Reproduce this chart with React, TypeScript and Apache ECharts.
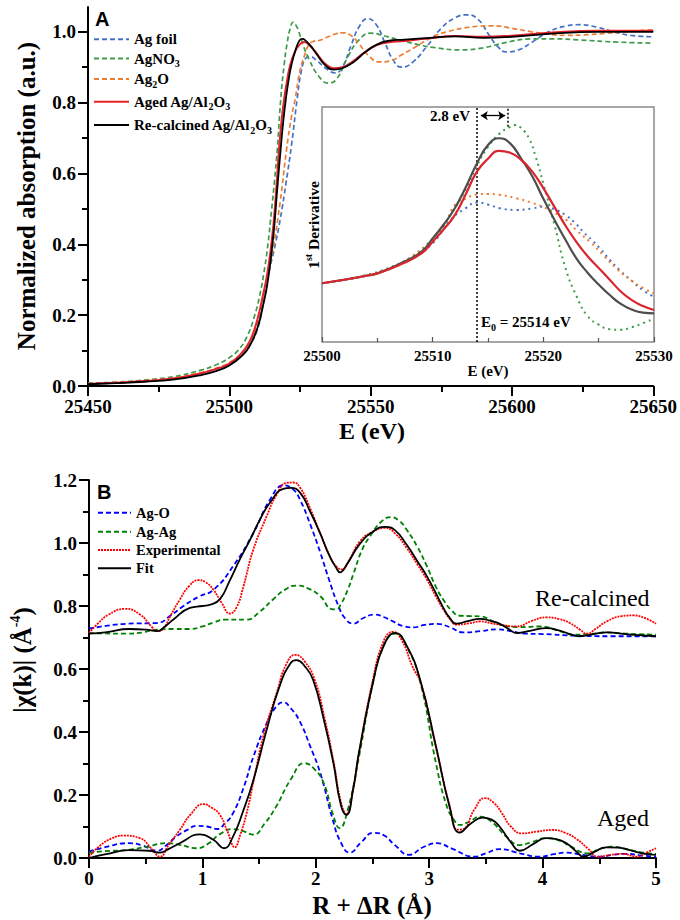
import React, { useEffect, useRef } from 'react';
import * as echarts from 'echarts';

const SERIF = '"Liberation Serif", "Times New Roman", serif';
const SANS = '"Liberation Sans", Arial, sans-serif';

// ---------- Panel A: XANES (E in eV, normalized absorption) ----------
const agFoil: number[][] = [[25450,0.006],[25460,0.009],[25470,0.014],[25480,0.021],[25490,0.036],[25496,0.05],[25500,0.062],[25504,0.085],[25507,0.115],[25509.5,0.15],[25512,0.23],[25514,0.32],[25516,0.39],[25518,0.47],[25520,0.57],[25522,0.68],[25524,0.81],[25525.5,0.89],[25527,0.925],[25528.5,0.93],[25531,0.918],[25534,0.898],[25537.5,0.884],[25540,0.9],[25543,0.96],[25546,1.015],[25549,1.037],[25552,1.02],[25555,0.97],[25558,0.92],[25561,0.9],[25565,0.915],[25570,0.96],[25575,1.01],[25580,1.04],[25584,1.048],[25588,1.035],[25592,0.99],[25595,0.958],[25598,0.943],[25602,0.948],[25607,0.97],[25613,1.0],[25619,1.016],[25624,1.02],[25630,1.013],[25636,1.0],[25642,0.99],[25650,0.986]];
const agNO3: number[][] = [[25450,0.008],[25460,0.011],[25470,0.017],[25480,0.026],[25490,0.045],[25496,0.062],[25500,0.08],[25503,0.1],[25506,0.135],[25509,0.2],[25511,0.265],[25512.3,0.323],[25513.5,0.389],[25515,0.5],[25516,0.58],[25517,0.671],[25518.2,0.81],[25519.4,0.907],[25520.5,0.97],[25521.5,1.008],[25522.6,1.027],[25523.6,1.018],[25524.6,1.0],[25526,0.965],[25528,0.926],[25531.7,0.874],[25535,0.855],[25538,0.867],[25542,0.93],[25546,0.978],[25550,0.996],[25555,0.988],[25560,0.977],[25566,0.965],[25572,0.956],[25582,0.949],[25590,0.955],[25598,0.97],[25607,0.98],[25615,0.98],[25624,0.977],[25637,0.971],[25650,0.968]];
const ag2O: number[][] = [[25450,0.007],[25460,0.01],[25470,0.015],[25480,0.022],[25490,0.038],[25496,0.052],[25500,0.066],[25504,0.09],[25507,0.12],[25510,0.18],[25512,0.25],[25514,0.33],[25515.5,0.389],[25518,0.52],[25520.3,0.671],[25522,0.76],[25523.3,0.81],[25525,0.89],[25526.5,0.93],[25528,0.962],[25529.5,0.972],[25532,0.976],[25535,0.986],[25538,0.995],[25540,0.997],[25543,0.99],[25546,0.965],[25549,0.935],[25553,0.915],[25557,0.918],[25561,0.935],[25566,0.958],[25571.5,0.984],[25577,1.0],[25585,1.013],[25593,1.017],[25600,1.01],[25607,1.0],[25613,0.993],[25619,0.99],[25625,0.991],[25632,0.995],[25640,1.0],[25650,1.006]];
const agedAg: number[][] = [[25450,0.006],[25460,0.009],[25470,0.014],[25480,0.021],[25490,0.036],[25496,0.05],[25500,0.063],[25504,0.09],[25506,0.11],[25508,0.14],[25510,0.19],[25512,0.26],[25513.5,0.32],[25515,0.41],[25516,0.49],[25517,0.6],[25517.6,0.671],[25518.5,0.75],[25519.4,0.81],[25520.5,0.865],[25521.5,0.905],[25523,0.94],[25524.5,0.96],[25526.4,0.971],[25528,0.965],[25530,0.948],[25533,0.917],[25535,0.903],[25537,0.897],[25540,0.9],[25544,0.918],[25548,0.943],[25552,0.962],[25556,0.97],[25562,0.974],[25570,0.981],[25580,0.988],[25590,0.986],[25600,0.989],[25613,0.997],[25630,1.003],[25650,1.003]];
const recalcAg: number[][] = [[25450,0.005],[25460,0.008],[25470,0.012],[25480,0.018],[25490,0.031],[25496,0.044],[25500,0.058],[25504,0.082],[25507,0.11],[25510,0.165],[25512,0.23],[25513.5,0.29],[25515.1,0.389],[25516,0.46],[25517,0.56],[25518.2,0.671],[25519,0.74],[25520,0.81],[25521,0.865],[25522,0.907],[25523.5,0.95],[25524.8,0.975],[25525.8,0.98],[25527,0.975],[25529,0.958],[25531,0.936],[25534,0.905],[25537,0.893],[25540,0.897],[25544,0.915],[25548,0.942],[25552,0.963],[25556,0.974],[25562,0.978],[25570,0.982],[25580,0.987],[25590,0.983],[25600,0.986],[25613,0.994],[25630,1.0],[25650,1.0]];

// ---------- Inset: first derivative (arbitrary units) ----------
const dAgFoil: number[][] = [[25500,25],[25502,26.5],[25504,28.2],[25506,31],[25508,35.5],[25510,42],[25511.6,51.9],[25513,57],[25514,59.4],[25515,58.5],[25516.1,56.9],[25517.6,56.2],[25519,56.8],[25519.9,57.6],[25521,56.5],[25522,54],[25523,50],[25523.6,46.9],[25524.4,43.3],[25525.1,39.9],[25526,35],[25526.9,30.6],[25528,26],[25529,22],[25530,19.3]];
const dAgNO3: number[][] = [[25500,25],[25502,26.6],[25504,28.5],[25506,31.5],[25508,36],[25510,44],[25511,50],[25512,57],[25513,65],[25514,75],[25515,83],[25516,88.5],[25517,91.5],[25517.5,92.3],[25518,91],[25518.7,86.7],[25519.3,79],[25520,67.5],[25521,50],[25522,31.5],[25523,19.5],[25524,11],[25525,7.4],[25526,5.4],[25527,5.2],[25528,6.3],[25529,8],[25530,10]];
const dAg2O: number[][] = [[25500,25],[25502,26.5],[25504,28.3],[25506,31.2],[25508,36],[25510,43.5],[25511,49],[25512,58.3],[25513,61],[25514,62.8],[25515,63],[25516,62.7],[25517.6,61.1],[25519,59.2],[25519.9,57.6],[25521,55],[25522.1,51.9],[25523,47.5],[25524.2,42.7],[25525.5,36.5],[25526.6,31.3],[25528,26],[25529,23],[25530,20.7]];
const dAged: number[][] = [[25500,25],[25502,26.5],[25504,28.2],[25505,29.2],[25507,32.8],[25509,37.7],[25510,42.7],[25511,48],[25512,54],[25513,63],[25514,72.5],[25515,78],[25516,81.3],[25517,80.5],[25518,77.5],[25519,72.5],[25520,65.5],[25521,57.5],[25522,49.5],[25523,42.5],[25524,36.5],[25525,31.5],[25526,26.5],[25527,21.5],[25528,17.8],[25529,15.3],[25530,13.6]];
const dRecalc: number[][] = [[25500,25],[25502,26.5],[25504,28.2],[25505,29.2],[25507,33.2],[25509,38.5],[25510,44.1],[25511,50],[25512,56.9],[25513,66],[25514,76],[25515,83.8],[25516,86.7],[25517,84.5],[25518,78],[25519,70.5],[25520,61],[25521,52],[25522,43.5],[25523,35.5],[25524,29.5],[25525,24.5],[25526,20],[25527,16.2],[25528,13.8],[25529,12.5],[25530,12.2]];
const E0 = 25514;
const shiftEnd = 25516.8;

// ---------- Panel B: |chi(R)| (R + dR in Angstrom) ----------
const rcAgO: number[][] = [[0,0.728],[0.15,0.737],[0.35,0.744],[0.6,0.746],[0.72,0.77],[0.83,0.799],[0.97,0.83],[1.1,0.852],[1.27,0.926],[1.45,1.032],[1.6,1.14],[1.72,1.183],[1.8,1.17],[1.86,1.138],[1.95,1.06],[2.04,0.969],[2.12,0.88],[2.2,0.8],[2.26,0.76],[2.33,0.744],[2.42,0.762],[2.52,0.773],[2.6,0.765],[2.68,0.751],[2.77,0.736],[2.86,0.732],[2.96,0.74],[3.07,0.743],[3.18,0.733],[3.3,0.716],[3.45,0.72],[3.6,0.726],[3.72,0.72],[3.86,0.712],[4.0,0.711],[4.27,0.706],[4.6,0.704],[5,0.704]];
const rcAgAg: number[][] = [[0,0.714],[0.15,0.713],[0.33,0.712],[0.47,0.716],[0.6,0.725],[0.75,0.727],[0.89,0.727],[1.0,0.735],[1.1,0.748],[1.21,0.757],[1.39,0.757],[1.5,0.78],[1.62,0.82],[1.73,0.852],[1.83,0.865],[1.93,0.856],[2.04,0.831],[2.14,0.79],[2.18,0.789],[2.22,0.805],[2.28,0.85],[2.33,0.9],[2.41,0.98],[2.48,1.022],[2.57,1.065],[2.66,1.082],[2.73,1.072],[2.8,1.043],[2.9,0.985],[2.98,0.926],[3.06,0.86],[3.125,0.82],[3.2,0.785],[3.27,0.769],[3.36,0.768],[3.45,0.767],[3.57,0.75],[3.69,0.735],[3.8,0.733],[3.98,0.735],[4.15,0.72],[4.27,0.709],[4.42,0.711],[4.565,0.716],[4.75,0.712],[5,0.709]];
const rcExp: number[][] = [[0,0.714],[0.08,0.745],[0.17,0.772],[0.317,0.791],[0.45,0.773],[0.55,0.735],[0.6,0.72],[0.655,0.728],[0.72,0.77],[0.8,0.82],[0.88,0.862],[0.964,0.882],[1.03,0.875],[1.096,0.852],[1.17,0.81],[1.243,0.776],[1.3,0.795],[1.36,0.86],[1.449,0.979],[1.567,1.085],[1.65,1.15],[1.743,1.191],[1.8,1.192],[1.861,1.176],[1.95,1.11],[2.037,1.032],[2.12,0.96],[2.18,0.926],[2.23,0.916],[2.3,0.95],[2.39,1.006],[2.5,1.035],[2.61,1.048],[2.7,1.03],[2.8,0.985],[2.9,0.93],[2.98,0.884],[3.06,0.83],[3.125,0.789],[3.18,0.76],[3.24,0.741],[3.35,0.745],[3.45,0.751],[3.55,0.745],[3.62,0.741],[3.77,0.735],[3.9,0.752],[4.036,0.764],[4.15,0.758],[4.24,0.746],[4.33,0.725],[4.39,0.712],[4.47,0.728],[4.565,0.751],[4.7,0.768],[4.8,0.77],[4.9,0.762],[5,0.744]];
const rcFit: number[][] = [[0,0.712],[0.16,0.717],[0.35,0.727],[0.5,0.725],[0.6,0.72],[0.67,0.735],[0.744,0.757],[0.89,0.794],[1.0,0.8],[1.067,0.804],[1.155,0.822],[1.24,0.88],[1.33,0.948],[1.42,1.01],[1.508,1.075],[1.6,1.13],[1.713,1.172],[1.78,1.175],[1.861,1.16],[1.95,1.1],[2.037,1.032],[2.12,0.96],[2.18,0.921],[2.213,0.907],[2.27,0.93],[2.39,0.998],[2.5,1.035],[2.61,1.051],[2.7,1.04],[2.8,0.995],[2.9,0.94],[2.98,0.894],[3.06,0.84],[3.125,0.794],[3.18,0.763],[3.24,0.744],[3.34,0.752],[3.45,0.759],[3.55,0.752],[3.62,0.744],[3.7,0.727],[3.77,0.714],[3.9,0.722],[4.036,0.73],[4.15,0.722],[4.25,0.71],[4.33,0.704],[4.45,0.711],[4.565,0.716],[4.75,0.71],[5,0.704]];

const agedAgO: number[][] = [[0,0.02],[0.15,0.035],[0.35,0.047],[0.47,0.04],[0.6,0.023],[0.68,0.04],[0.77,0.068],[0.87,0.09],[0.95,0.102],[1.04,0.1],[1.13,0.092],[1.2,0.11],[1.27,0.142],[1.36,0.22],[1.45,0.322],[1.567,0.428],[1.65,0.48],[1.713,0.494],[1.78,0.475],[1.86,0.433],[1.95,0.355],[2.04,0.269],[2.15,0.121],[2.22,0.05],[2.3,0.017],[2.4,0.05],[2.51,0.08],[2.6,0.072],[2.7,0.04],[2.82,0.01],[2.95,0.035],[3.07,0.047],[3.2,0.03],[3.4,0.004],[3.5,0.015],[3.62,0.028],[3.8,0.015],[3.97,0.004],[4.1,0.012],[4.21,0.017],[4.35,0.01],[4.5,0.004],[4.62,0.01],[4.74,0.013],[4.87,0.008],[5,0.004]];
const agedAgAg: number[][] = [[0,0.016],[0.15,0.022],[0.33,0.025],[0.5,0.035],[0.69,0.047],[0.8,0.042],[0.95,0.031],[1.05,0.045],[1.15,0.075],[1.27,0.092],[1.36,0.085],[1.45,0.074],[1.55,0.11],[1.65,0.163],[1.78,0.25],[1.9,0.301],[1.98,0.285],[2.07,0.238],[2.15,0.14],[2.21,0.095],[2.28,0.15],[2.38,0.32],[2.5,0.55],[2.6,0.675],[2.7,0.712],[2.8,0.672],[2.92,0.56],[3.06,0.3],[3.15,0.17],[3.22,0.12],[3.27,0.105],[3.35,0.115],[3.45,0.131],[3.55,0.115],[3.68,0.068],[3.8,0.041],[3.9,0.05],[4.03,0.063],[4.15,0.055],[4.25,0.036],[4.4,0.015],[4.5,0.028],[4.61,0.036],[4.75,0.027],[4.87,0.018],[5,0.013]];
const agedExp: number[][] = [[0,0.004],[0.1,0.04],[0.2,0.062],[0.3,0.071],[0.45,0.063],[0.55,0.03],[0.626,0.004],[0.7,0.04],[0.8,0.089],[0.9,0.14],[1.008,0.171],[1.08,0.16],[1.155,0.137],[1.22,0.085],[1.287,0.034],[1.33,0.07],[1.39,0.142],[1.46,0.26],[1.537,0.386],[1.655,0.524],[1.74,0.615],[1.82,0.645],[1.9,0.625],[1.99,0.566],[2.08,0.44],[2.16,0.3],[2.22,0.18],[2.27,0.14],[2.33,0.22],[2.38,0.33],[2.5,0.56],[2.6,0.69],[2.68,0.718],[2.76,0.69],[2.85,0.61],[2.93,0.55],[3.06,0.35],[3.18,0.165],[3.25,0.09],[3.3,0.092],[3.4,0.155],[3.49,0.19],[3.57,0.175],[3.64,0.143],[3.72,0.1],[3.82,0.078],[3.95,0.084],[4.09,0.089],[4.2,0.08],[4.3,0.06],[4.4,0.03],[4.49,0.004],[4.6,0.01],[4.71,0.013],[4.83,0.004],[4.92,0.018],[5,0.031]];
const agedFit: number[][] = [[0,0.0],[0.15,0.012],[0.35,0.025],[0.53,0.023],[0.626,0.017],[0.7,0.028],[0.8,0.047],[0.98,0.075],[1.1,0.057],[1.19,0.031],[1.27,0.068],[1.36,0.15],[1.45,0.248],[1.567,0.407],[1.68,0.545],[1.78,0.62],[1.83,0.628],[1.9,0.61],[1.976,0.566],[2.07,0.44],[2.155,0.302],[2.22,0.17],[2.27,0.137],[2.33,0.22],[2.38,0.334],[2.51,0.566],[2.6,0.675],[2.7,0.715],[2.8,0.675],[2.92,0.566],[3.06,0.354],[3.18,0.163],[3.27,0.081],[3.37,0.11],[3.47,0.128],[3.55,0.122],[3.62,0.1],[3.72,0.05],[3.8,0.023],[3.92,0.045],[4.03,0.063],[4.12,0.06],[4.21,0.047],[4.3,0.02],[4.36,0.004],[4.46,0.02],[4.56,0.034],[4.67,0.033],[4.77,0.025],[4.88,0.015],[5,0.01]];

// ---------- tick values ----------
const topYMajor = [0, 0.2, 0.4, 0.6, 0.8, 1.0];
const topYMinor = [0.1, 0.3, 0.5, 0.7, 0.9];

const legendNamesA = ['Ag foil', 'AgNO3', 'Ag2O', 'Aged Ag/Al2O3', 'Re-calcined Ag/Al2O3'];
const legendRich: Record<string, string> = {
  'Ag foil': 'Ag foil',
  'AgNO3': 'AgNO{s|3}',
  'Ag2O': 'Ag{s|2}O',
  'Aged Ag/Al2O3': 'Aged Ag/Al{s|2}O{s|3}',
  'Re-calcined Ag/Al2O3': 'Re-calcined Ag/Al{s|2}O{s|3}',
};
const legendNamesB = ['Ag-O', 'Ag-Ag', 'Experimental', 'Fit'];

const C = {
  blueA: '#4472c4', greenA: '#3f9b4a', orangeA: '#ed7d31', redA: '#e3222b', blackA: '#000000',
  blueB: '#0000ff', greenB: '#008000', redB: '#ff0000', blackB: '#000000',
};

function buildOption(): any {
  const boldLabel = { color: '#000', fontFamily: SERIF, fontWeight: 'bold', fontSize: 19 };
  const axLine = { show: true, lineStyle: { color: '#000', width: 2 } };
  const majorTick = { show: true, inside: false, length: 10, lineStyle: { color: '#000', width: 2 } };
  const minorTick = { show: true, splitNumber: 2, length: 6, lineStyle: { color: '#000', width: 2 } };
  const plain = (v: number) => String(v);
  const SM = 0.5;

  const lineA = (name: string, data: number[][], color: string, dash: any, width: number, z = 2) => ({
    type: 'line', name, data, xAxisIndex: 0, yAxisIndex: 0, showSymbol: false, symbol: 'none',
    smooth: SM, z,
    lineStyle: { color, width, type: dash }, itemStyle: { color },
    emphasis: { disabled: true },
  });
  const lineIn = (name: string, data: number[][], color: string, dash: any, width: number, extra: any = {}) => ({
    type: 'line', name, data, xAxisIndex: 1, yAxisIndex: 2, showSymbol: false, symbol: 'none',
    smooth: SM, z: 5,
    lineStyle: { color, width, type: dash, cap: 'butt' }, itemStyle: { color },
    emphasis: { disabled: true }, ...extra,
  });
  const lineB = (name: string, data: number[][], color: string, dash: any, width: number) => ({
    type: 'line', name, data, xAxisIndex: 2, yAxisIndex: 3, showSymbol: false, symbol: 'none',
    smooth: SM,
    lineStyle: { color, width, type: dash }, itemStyle: { color },
    emphasis: { disabled: true },
  });

  const legendTextA = {
    color: '#000', fontFamily: SERIF, fontWeight: 'bold', fontSize: 15, lineHeight: 20,
    rich: { s: { fontFamily: SERIF, fontWeight: 'bold', fontSize: 10, lineHeight: 10, verticalAlign: 'bottom', color: '#000' } },
  };
  const hiddenSymbol = { opacity: 0, borderWidth: 0 };
  const legendTopsA = [39.3, 58.5, 79, 101.7, 125];
  const legendsA = legendNamesA.map((n, i) => ({
    data: [n], left: 93, top: legendTopsA[i] - 10, padding: 0, itemWidth: 35, itemHeight: 10,
    selectedMode: false, itemStyle: hiddenSymbol,
    formatter: (name: string) => legendRich[name] || name, textStyle: legendTextA,
  }));
  const legendTopsB = [512.7, 531.7, 550, 568.3];
  const legendsB = legendNamesB.map((n, i) => ({
    data: [n], left: 97, top: legendTopsB[i] - 10, padding: 0, itemWidth: 33, itemHeight: 10,
    selectedMode: false, itemStyle: hiddenSymbol,
    textStyle: { color: '#000', fontFamily: SERIF, fontWeight: 'bold', fontSize: 14.5, lineHeight: 20 },
  }));

  const titleFont = { fontFamily: SERIF, fontWeight: 'bold', fill: '#000' };

  return {
    animation: false,
    backgroundColor: '#ffffff',
    textStyle: { fontFamily: SERIF },
    grid: [
      { left: 88, right: 24, top: 7, bottom: 534 },
      { left: 322, right: 26, top: 107, bottom: 578, show: true, borderColor: '#8a8a8a', borderWidth: 1.5, backgroundColor: '#ffffff', z: 3 },
      { left: 89, right: 24, top: 480, bottom: 62 },
    ],
    xAxis: [
      {
        gridIndex: 0, type: 'value', min: 25450, max: 25650, interval: 50,
        axisLine: axLine, axisTick: majorTick, minorTick, splitLine: { show: false },
        axisLabel: { ...boldLabel, margin: 11, formatter: plain },
      },
      {
        gridIndex: 1, type: 'value', min: 25500, max: 25530, interval: 10, z: 4,
        axisLine: { show: false }, splitLine: { show: false },
        axisTick: { show: true, inside: true, length: 5, lineStyle: { color: '#555', width: 1.2 } },
        minorTick: { show: true, splitNumber: 2, length: 4, lineStyle: { color: '#555', width: 1.2 } },
        axisLabel: { color: '#000', fontFamily: SERIF, fontWeight: 'bold', fontSize: 15, margin: 6, formatter: plain },
      },
      {
        gridIndex: 2, type: 'value', min: 0, max: 5, interval: 1,
        axisLine: axLine, axisTick: majorTick, minorTick, splitLine: { show: false },
        axisLabel: { ...boldLabel, margin: 11, formatter: plain },
      },
    ],
    yAxis: [
      {
        gridIndex: 0, type: 'value', min: 0, max: 1.07, interval: 0.2,
        axisLine: axLine,
        axisTick: { ...majorTick, customValues: topYMajor },
        splitLine: { show: false },
        axisLabel: { ...boldLabel, margin: 12, customValues: topYMajor, formatter: (v: number) => v.toFixed(1) },
      },
      {
        gridIndex: 0, type: 'value', min: 0, max: 1.07, interval: 0.2, position: 'left',
        axisLine: { show: false },
        axisTick: { show: true, length: 6, lineStyle: { color: '#000', width: 2 }, customValues: topYMinor },
        axisLabel: { show: false, customValues: topYMinor },
        splitLine: { show: false },
      },
      {
        gridIndex: 1, type: 'value', min: 0, max: 100, z: 4,
        axisLine: { show: false }, axisTick: { show: false }, axisLabel: { show: false }, splitLine: { show: false },
      },
      {
        gridIndex: 2, type: 'value', min: 0, max: 1.2, interval: 0.2,
        axisLine: axLine, axisTick: majorTick, minorTick, splitLine: { show: false },
        axisLabel: { ...boldLabel, margin: 12, formatter: (v: number) => v.toFixed(1) },
      },
    ],
    legend: [...legendsA, ...legendsB],
    series: [
      lineA('Ag foil', agFoil, C.blueA, [5, 3], 1.7),
      lineA('AgNO3', agNO3, C.greenA, [5, 3], 1.7),
      lineA('Ag2O', ag2O, C.orangeA, [5, 3], 1.7),
      lineA('Aged Ag/Al2O3', agedAg, C.redA, 'solid', 2),
      lineA('Re-calcined Ag/Al2O3', recalcAg, C.blackA, 'solid', 1.8, 3),

      lineIn('Ag foil (1st derivative)', dAgFoil, C.blueA, [2, 4], 2),
      lineIn('AgNO3 (1st derivative)', dAgNO3, C.greenA, [2, 4], 2),
      lineIn('Ag2O (1st derivative)', dAg2O, C.orangeA, [2, 4], 2),
      lineIn('Re-calcined (1st derivative)', dRecalc, '#4d4d4d', 'solid', 2.2),
      lineIn('Aged (1st derivative)', dAged, '#d9262e', 'solid', 2.2, {
        markLine: {
          silent: true, symbol: ['none', 'none'], animation: false,
          label: { show: false },
          lineStyle: { color: '#000', type: [2, 2], width: 1.5 },
          emphasis: { disabled: true },
          data: [
            [{ coord: [E0, 0] }, { coord: [E0, 100] }],
            [{ coord: [shiftEnd, 91.6] }, { coord: [shiftEnd, 100] }],
            [
              { coord: [E0 + 0.35, 96.3], symbol: 'arrow', symbolSize: 7, lineStyle: { type: 'solid', width: 1.3, color: '#000' } },
              { coord: [shiftEnd - 0.25, 96.3], symbol: 'arrow', symbolSize: 7 },
            ],
          ],
        },
      }),

      lineB('Ag-O', rcAgO, C.blueB, [5, 3], 1.8),
      lineB('Ag-Ag', rcAgAg, C.greenB, [5, 3], 1.8),
      lineB('Experimental', rcExp, C.redB, [2, 1], 1.8),
      lineB('Fit', rcFit, C.blackB, 'solid', 1.8),
      lineB('Ag-O (aged)', agedAgO, C.blueB, [5, 3], 1.8),
      lineB('Ag-Ag (aged)', agedAgAg, C.greenB, [5, 3], 1.8),
      lineB('Experimental (aged)', agedExp, C.redB, [2, 1], 1.8),
      lineB('Fit (aged)', agedFit, C.blackB, 'solid', 1.8),
    ],
    graphic: [
      { type: 'text', left: 95, top: 9, style: { text: 'A', font: `bold 20px ${SANS}`, fill: '#000' } },
      { type: 'text', left: 97, top: 482, style: { text: 'B', font: `bold 20px ${SANS}`, fill: '#000' } },
      {
        type: 'text', x: 26, y: 196, rotation: Math.PI / 2,
        style: { text: 'Normalized absorption (a.u.)', font: `bold 25px ${SERIF}`, fill: '#000', align: 'center', verticalAlign: 'middle' },
      },
      {
        type: 'text', x: 372, y: 431,
        style: { text: 'E (eV)', font: `bold 24px ${SERIF}`, fill: '#000', align: 'center', verticalAlign: 'middle' },
      },
      {
        type: 'text', x: 22, y: 660, rotation: Math.PI / 2,
        style: {
          text: '|χ(k)| (Å{sup|-4})', ...titleFont, fontSize: 25, lineHeight: 28, align: 'center', verticalAlign: 'middle',
          rich: { sup: { fontFamily: SERIF, fontWeight: 'bold', fontSize: 14, lineHeight: 12, verticalAlign: 'top', fill: '#000' } },
        },
      },
      {
        type: 'text', x: 372, y: 905,
        style: { text: 'R + ΔR (Å)', font: `bold 25px ${SERIF}`, fill: '#000', align: 'center', verticalAlign: 'middle' },
      },
      {
        type: 'text', x: 488, y: 371, z: 10,
        style: { text: 'E (eV)', font: `bold 15px ${SERIF}`, fill: '#000', align: 'center', verticalAlign: 'middle' },
      },
      {
        type: 'text', x: 313, y: 225, rotation: Math.PI / 2, z: 10,
        style: {
          text: '1{sup|st} Derivative', ...titleFont, fontSize: 15.5, lineHeight: 20, align: 'center', verticalAlign: 'middle',
          rich: { sup: { fontFamily: SERIF, fontWeight: 'bold', fontSize: 10, lineHeight: 10, verticalAlign: 'top', fill: '#000' } },
        },
      },
      {
        type: 'text', x: 470, y: 116, z: 10,
        style: { text: '2.8 eV', font: `bold 15px ${SERIF}`, fill: '#000', align: 'right', verticalAlign: 'middle' },
      },
      {
        type: 'text', x: 481, y: 322, z: 10,
        style: {
          text: 'E{s|0} = 25514 eV', ...titleFont, fontSize: 15, lineHeight: 20, align: 'left', verticalAlign: 'middle',
          rich: { s: { fontFamily: SERIF, fontWeight: 'bold', fontSize: 10, lineHeight: 10, verticalAlign: 'bottom', fill: '#000' } },
        },
      },
      {
        type: 'text', x: 535, y: 598,
        style: { text: 'Re-calcined', font: `24px ${SERIF}`, fill: '#000', align: 'left', verticalAlign: 'middle' },
      },
      {
        type: 'text', x: 597, y: 818,
        style: { text: 'Aged', font: `24px ${SERIF}`, fill: '#000', align: 'left', verticalAlign: 'middle' },
      },
    ],
  };
}

export default function App() {
  const ref = useRef<HTMLDivElement>(null);
  useEffect(() => {
    if (!ref.current) return;
    const chart = echarts.init(ref.current, null, { renderer: 'svg' });
    chart.setOption(buildOption());
    return () => chart.dispose();
  }, []);
  return (
    <div
      ref={ref}
      style={{ position: 'fixed', left: 0, top: 0, width: 680, height: 920, background: '#fff' }}
    />
  );
}
